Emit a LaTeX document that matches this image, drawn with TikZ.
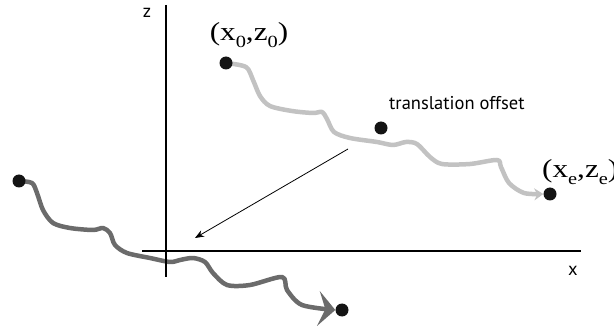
\documentclass[tikz,border=0pt]{standalone}
\usepackage{fontspec}
\setmainfont{Liberation Serif}[FakeStretch=1.2]
\newfontfamily\labelsf{PT Sans}
\usetikzlibrary{arrows.meta, backgrounds}
\newcommand{\lowsub}[1]{\raisebox{-0.28em}{\fontsize{17}{17}\selectfont #1}}

\begin{document}
\begin{tikzpicture}[x=1pt, y=-1pt,
    dot/.style={circle, fill=black!92, inner sep=0pt, minimum size=13pt},
    lbl/.style={font=\fontsize{26}{26}\selectfont, inner sep=0pt},
    sflbl/.style={font=\labelsf\fontsize{18.5}{18.5}\selectfont, inner sep=0pt},
    trail/.style={line width=4.5pt, line cap=round, line join=round}]
  \useasboundingbox (0,0) rectangle (614,326);
  % axes
  \draw[line width=1.8pt] (166,5) -- (166,277);
  \draw[line width=1.8pt] (142,251) -- (581,251);
  \node[sflbl] (zlbl) at (147,13) {z};
  \node[sflbl] (xlbl) at (573,271) {x};

  % end points of both paths
  \node[dot] (s0) at (226,63) {};
  \node[dot] (e0) at (550,194) {};
  \node[dot] (s1) at (19,181) {};
  \node[dot] (e1) at (342,310) {};
  \node[dot] (off) at (381,128) {};

  \node[lbl] (lbls) at (249,35) {(x\lowsub{0},z\lowsub{0})};
  \node[lbl, anchor=west] (lble) at (542,172) {(x\lowsub{e},z\lowsub{e})};
  \node[sflbl, anchor=west] (lbloff) at (389,103) {translation offset};

  \begin{scope}[on background layer]
    \draw[trail, black!24, -{Stealth[length=9pt 0, width=12pt 0]}] plot[smooth, tension=0.5] coordinates {(s0) (246,67) (253,80) (260,96) (270,106) (292,111) (313,113) (322,112) (327,119) (334,132) (350,138) (377,142) (393,145) (406,142) (417,144) (430,157) (442,164) (470,164) (497,160) (501,167) (509,183) (524,193) (e0.west)};
    \draw[trail, black!58, -{Stealth[length=17pt 0, width=35pt 0, inset=7pt 0]}] plot[smooth, tension=0.5] coordinates {(s1) (32,183) (37,193) (43,210) (53,223) (70,228) (93,230) (103,228) (110,233) (115,245) (127,253) (150,258) (170,262) (180,260) (193,258) (205,262) (213,273) (227,285) (250,285) (282,277) (287,290) (302,305) (e1.west)};
  \end{scope}

  % the offset
  \coordinate (offtail) at (348,149);
  \coordinate (offhead) at (195,238);
  \draw[line width=0.8pt, -{Stealth[length=9pt, width=7pt]}] (offtail) -- (offhead);
\end{tikzpicture}
\end{document}
